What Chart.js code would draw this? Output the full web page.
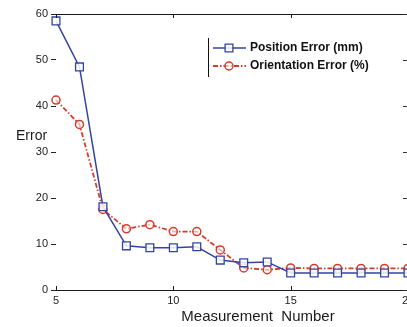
<!DOCTYPE html>
<html>
<head>
<meta charset="utf-8">
<script src="https://cdn.jsdelivr.net/npm/chart.js@4/dist/chart.umd.min.js"></script>
<style>
html,body{margin:0;padding:0;background:#fff;overflow:hidden;}
#wrap{position:relative;width:407px;height:327px;overflow:hidden;}
canvas{display:block;}
</style>
</head>
<body>
<div id="wrap"><canvas id="c" width="420" height="327"></canvas></div>
<script>
const measurementNumbers = [5,6,7,8,9,10,11,12,13,14,15,16,17,18,19,20];
const positionError =    [58.5,48.5,18.1,9.6,9.2,9.2,9.4,6.5,5.9,6.1,3.7,3.7,3.7,3.7,3.7,3.7];
const orientationError = [41.3,36.0,17.5,13.3,14.2,12.7,12.7,8.7,4.8,4.4,4.8,4.7,4.7,4.7,4.7,4.7];
const seriesLabels = ['Position Error (mm)','Orientation Error (%)'];
const xTicks = [5,10,15,20];
const yTicks = [0,10,20,30,40,50,60];
const xTitle = 'Measurement  Number';
const yTitle = 'Error';

const BLUE = '#3444a0';
const RED = '#d63c2c';
const RED_DASH = [5,2,1.5,2];

const toPts = arr => arr.map((v,i)=>({x:measurementNumbers[i], y:v}));

const framePlugin = {
  id:'frame',
  afterDraw(chart){
    const ctx = chart.ctx, a = chart.chartArea;
    const xs = chart.scales.x, ys = chart.scales.y;
    ctx.save();
    ctx.strokeStyle = '#1a1a1a';
    ctx.lineWidth = 1;
    ctx.beginPath();
    ctx.moveTo(a.left, Math.round(a.top)+0.5);
    ctx.lineTo(a.right, Math.round(a.top)+0.5);
    ctx.stroke();
    xTicks.forEach(v=>{
      const px = Math.round(xs.getPixelForValue(v))+0.5;
      ctx.beginPath();
      ctx.moveTo(px, a.top); ctx.lineTo(px, a.top+4);
      ctx.moveTo(px, a.bottom); ctx.lineTo(px, a.bottom-4);
      ctx.stroke();
    });
    ctx.strokeStyle = '#333';
    yTicks.forEach(v=>{
      const py = Math.round(ys.getPixelForValue(v))+0.5;
      ctx.beginPath();
      ctx.moveTo(a.right, py); ctx.lineTo(a.right-5, py);
      ctx.stroke();
    });
    ctx.fillStyle = '#1a1a1a';
    ctx.font = '15px "Liberation Sans", Arial, sans-serif';
    ctx.textAlign = 'center';
    ctx.textBaseline = 'middle';
    ctx.fillText(xTitle, 258, 317);
    ctx.font = '14px "Liberation Sans", Arial, sans-serif';
    ctx.textAlign = 'left';
    ctx.fillText(yTitle, 16, 136);
    // legend
    const ds = chart.data.datasets;
    ctx.strokeStyle = '#111';
    ctx.lineWidth = 1;
    ctx.beginPath();
    ctx.moveTo(208.5, 38); ctx.lineTo(208.5, 77);
    ctx.stroke();
    const rows = [48, 66];
    ds.forEach((d, i)=>{
      const y = rows[i];
      ctx.save();
      ctx.strokeStyle = d.borderColor;
      ctx.lineWidth = d.borderWidth;
      ctx.setLineDash(d.borderDash || []);
      ctx.beginPath();
      ctx.moveTo(213, y); ctx.lineTo(246, y);
      ctx.stroke();
      ctx.setLineDash([]);
      ctx.strokeStyle = d.pointBorderColor;
      ctx.fillStyle = d.pointBackgroundColor;
      ctx.lineWidth = d.pointBorderWidth;
      Chart.helpers.drawPoint(ctx, {pointStyle:d.pointStyle, radius:d.pointRadius, borderWidth:d.pointBorderWidth}, 229, y);
      ctx.restore();
      ctx.fillStyle = '#111';
      ctx.font = 'bold 12px "Liberation Sans", Arial, sans-serif';
      ctx.textAlign = 'left';
      ctx.textBaseline = 'middle';
      ctx.fillText(d.label, 250, y);
    });
    ctx.restore();
  }
};

new Chart(document.getElementById('c'), {
  type:'line',
  data:{
    datasets:[
      {
        label:seriesLabels[0],
        data:toPts(positionError),
        borderColor:BLUE,
        borderWidth:1.5,
        pointStyle:'rect',
        pointRadius:5.5,
        pointBorderWidth:1.3,
        pointBorderColor:BLUE,
        pointBackgroundColor:'rgba(255,255,255,0.85)',
        tension:0
      },
      {
        label:seriesLabels[1],
        data:toPts(orientationError),
        borderColor:RED,
        borderWidth:1.8,
        borderDash:RED_DASH,
        pointStyle:'circle',
        pointRadius:4,
        pointBorderWidth:1.5,
        pointBorderColor:RED,
        pointBackgroundColor:'rgba(255,255,255,0.6)',
        tension:0
      }
    ]
  },
  options:{
    responsive:false,
    animation:false,
    clip:false,
    layout:{padding:{top:14,right:12,left:0,bottom:0}},
    plugins:{legend:{display:false}, tooltip:{enabled:false}},
    scales:{
      x:{
        type:'linear',
        min:5, max:20,
        afterBuildTicks(s){ s.ticks = xTicks.map(v=>({value:v})); },
        afterFit(s){ s.height = 37; s.paddingLeft = 0; s.paddingRight = 0; },
        grid:{display:false, drawTicks:false},
        border:{display:true, color:'#1a1a1a', width:1},
        ticks:{color:'#222', padding:4, maxRotation:0, autoSkip:false,
          font:{family:'"Liberation Sans", Arial, sans-serif', size:11}}
      },
      y:{
        min:0, max:60,
        afterBuildTicks(s){ s.ticks = yTicks.map(v=>({value:v})); },
        afterFit(s){ s.width = 56; s.paddingTop = 0; s.paddingBottom = 0; },
        grid:{drawOnChartArea:false, drawTicks:true, tickLength:5, color:'#222'},
        border:{display:false},
        ticks:{color:'#222', padding:3,
          font:{family:'"Liberation Sans", Arial, sans-serif', size:11}}
      }
    }
  },
  plugins:[framePlugin]
});
</script>
</body>
</html>
